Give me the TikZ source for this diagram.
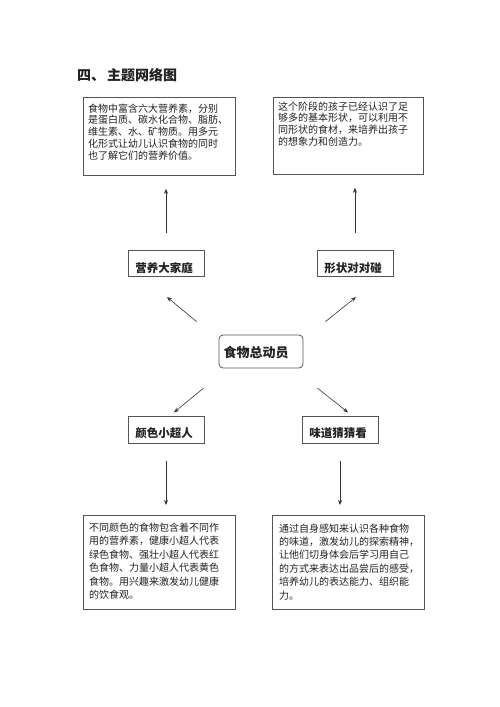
\documentclass[tikz,border=0pt]{standalone}
\usepackage{fontspec}
\setmainfont{Noto Sans CJK SC}
\usetikzlibrary{arrows.meta}
\definecolor{boxc}{HTML}{555555}
\definecolor{txtc}{HTML}{222222}
\definecolor{arrc}{HTML}{333333}
\begin{document}
\begin{tikzpicture}[x=1pt,y=-1pt,
  box/.style={draw=boxc, line width=0.8pt, inner sep=0pt, anchor=north west},
  para/.style={inner sep=0pt, anchor=north west, align=left, text=txtc},
  lblbox/.style={draw=boxc, line width=0.8pt, minimum width=76pt, minimum height=26.5pt, inner sep=0pt},
  lbltext/.style={font=\fontsize{11.5}{13}\selectfont\bfseries, inner sep=0pt, text=txtc},
  arr/.style={draw=arrc, line width=0.6pt, -{Stealth[length=5pt,width=4pt]}}]
\fill[white] (0,0) rectangle (500,707);
\useasboundingbox (0,0) rectangle (500,707);

\node[inner sep=0pt, anchor=west, text=txtc, font=\fontsize{14}{16}\selectfont\bfseries] (title) at (77,75) {四、\hspace{2pt}主题网络图};

% text boxes
\node[box, minimum width=152pt, minimum height=78pt] (tl) at (83,97) {};
\node[box, minimum width=150pt, minimum height=77pt] (tr) at (273,97) {};
\node[box, minimum width=152pt, minimum height=94pt] (bl) at (83,515) {};
\node[box, minimum width=152pt, minimum height=94pt] (br) at (272,515) {};

\node[para, font=\fontsize{10}{11.75}\selectfont] (tlt) at (88,103.5) {食物中富含六大营养素，分别\\是蛋白质、碳水化合物、脂肪、\\维生素、水、矿物质。用多元\\化形式让幼儿认识食物的同时\\也了解它们的营养价值。};
\node[para, font=\fontsize{10}{11.7}\selectfont] (trt) at (278,101.5) {这个阶段的孩子已经认识了足\\够多的基本形状，可以利用不\\同形状的食材，来培养出孩子\\的想象力和创造力。};
\node[para, font=\fontsize{10}{13.5}\selectfont] (blt) at (89,522.5) {不同颜色的食物包含着不同作\\用的营养素，健康小超人代表\\绿色食物、强壮小超人代表红\\色食物、力量小超人代表黄色\\食物。用兴趣来激发幼儿健康\\的饮食观。};
\node[para, font=\fontsize{10}{13.4}\selectfont] (brt) at (279,523.5) {通过自身感知来认识各种食物\\的味道，激发幼儿的探索精神，\\让他们切身体会后学习用自己\\的方式来表达出品尝后的感受，\\培养幼儿的表达能力、组织能\\力。};

% label boxes
\node[lblbox] (yy) at (166,263.5) {};
\node[lblbox] (xz) at (355,263.5) {};
\node[lblbox] (ys) at (166,430) {};
\node[lblbox] (wd) at (340,430) {};
\node[draw=boxc, line width=0.8pt, rounded corners=4pt, minimum width=84pt, minimum height=33pt, inner sep=0pt] (c) at (261,351.5) {};

\node[lbltext] (yyt) at (164,268) {营养大家庭};
\node[lbltext] (xzt) at (353,268) {形状对对碰};
\node[lbltext] (yst) at (164,433.5) {颜色小超人};
\node[lbltext] (wdt) at (338,433.5) {味道猜猜看};
\node[lbltext, font=\fontsize{13}{15}\selectfont\bfseries] (ct) at (256,353) {食物总动员};

% arrows
\draw[arr, shorten <=17pt, shorten >=13pt] (yy.north) -- (yy.north |- tl.south);
\draw[arr, shorten <=17pt, shorten >=13pt] (xz.north) -- (xz.north |- tr.south);
\draw[arr, shorten <=20.3pt, shorten >=31.2pt] ([xshift=-6.4pt]c.north west) -- ([xshift=-23pt]yy.south);
\draw[arr, shorten <=20.7pt, shorten >=31.9pt] ([xshift=5.9pt]c.north east) -- ([xshift=25.8pt]xz.south);
\draw[arr, shorten <=31.2pt, shorten >=6.2pt] ([xshift=9pt]c.south west) -- ([xshift=3.2pt]ys.north);
\draw[arr, shorten <=31.9pt, shorten >=6.4pt] ([xshift=-10.8pt]c.south east) -- ([xshift=13pt]wd.north);
\draw[arr, shorten <=17pt, shorten >=10pt] (ys.south) -- (ys.south |- bl.north);
\draw[arr, shorten <=17pt, shorten >=10pt] (wd.south) -- (wd.south |- br.north);
\end{tikzpicture}
\end{document}
